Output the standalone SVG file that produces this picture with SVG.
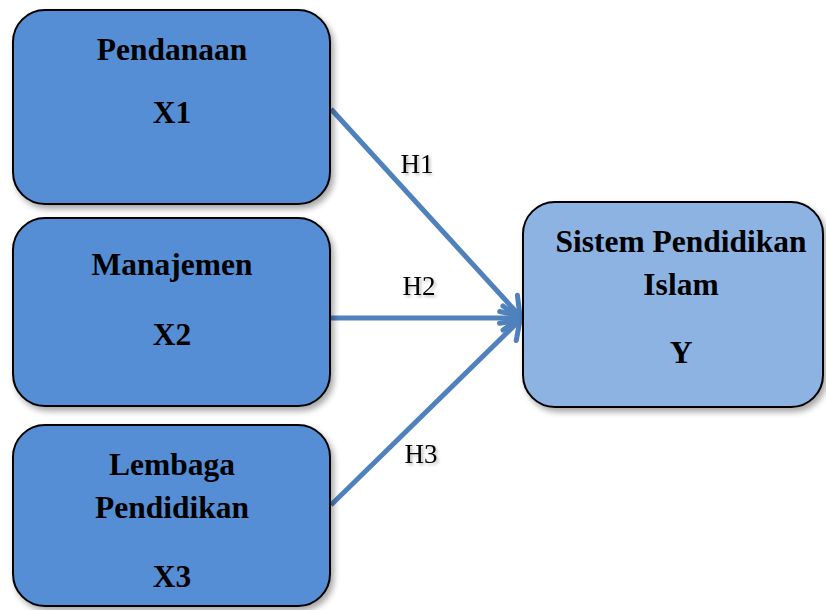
<svg xmlns="http://www.w3.org/2000/svg" width="826" height="610" viewBox="0 0 826 610">
<style>
.box{stroke:#000;stroke-width:2}
.x{fill:#558ED5}
.y{fill:#8DB3E2}
.t{font-family:"Liberation Serif","Times New Roman",serif;font-weight:bold;font-size:31.5px;fill:#000;text-anchor:middle}
.h{font-family:"Liberation Serif","Times New Roman",serif;font-size:27px;fill:#000;text-anchor:middle}
.c{stroke:#4F81BD;stroke-width:5;fill:none}
</style>
<defs>
<filter id="sh" x="-10%" y="-10%" width="125%" height="125%">
<feGaussianBlur in="SourceAlpha" stdDeviation="3"/>
<feOffset dx="3" dy="4" result="b"/>
<feComponentTransfer><feFuncA type="linear" slope="0.35"/></feComponentTransfer>
<feMerge><feMergeNode/><feMergeNode in="SourceGraphic"/></feMerge>
</filter>
<filter id="tsh" x="-20%" y="-20%" width="150%" height="150%">
<feGaussianBlur in="SourceAlpha" stdDeviation="1.5"/>
<feOffset dx="2" dy="2"/>
<feComponentTransfer><feFuncA type="linear" slope="0.25"/></feComponentTransfer>
<feMerge><feMergeNode/><feMergeNode in="SourceGraphic"/></feMerge>
</filter>
<marker id="arr" markerUnits="userSpaceOnUse" viewBox="-22 -16 26 32" refX="0" refY="0" markerWidth="26" markerHeight="32" orient="auto">
<path d="M-17,-12 L0,0 L-17,12" fill="none" stroke="#4F81BD" stroke-width="5" stroke-linecap="round" stroke-linejoin="round"/>
</marker>
</defs>
<g id="connectors">
<line class="c" x1="331" y1="109" x2="520" y2="316" marker-end="url(#arr)"/>
<line class="c" x1="331" y1="318" x2="520" y2="318" marker-end="url(#arr)"/>
<line class="c" x1="331" y1="505" x2="520" y2="320" marker-end="url(#arr)"/>
<g filter="url(#tsh)">
<text class="h" x="417" y="173">H1</text>
<text class="h" x="419" y="295">H2</text>
<text class="h" x="421" y="463">H3</text>
</g>
</g>
<g id="x1">
<rect class="box x" x="13" y="10" width="317" height="194" rx="32" filter="url(#sh)"/>
<text class="t" x="172" y="60">Pendanaan</text>
<text class="t" x="172" y="123">X1</text>
</g>
<g id="x2">
<rect class="box x" x="13" y="218" width="317" height="188" rx="32" filter="url(#sh)"/>
<text class="t" x="172" y="275">Manajemen</text>
<text class="t" x="172" y="345">X2</text>
</g>
<g id="x3">
<rect class="box x" x="13" y="425" width="317" height="181" rx="32" filter="url(#sh)"/>
<text class="t" x="172" y="475">Lembaga</text>
<text class="t" x="172" y="518">Pendidikan</text>
<text class="t" x="172" y="587">X3</text>
</g>
<g id="y">
<rect class="box y" x="523" y="202" width="300" height="205" rx="32" filter="url(#sh)"/>
<text class="t" x="681" y="252">Sistem Pendidikan</text>
<text class="t" x="681" y="295">Islam</text>
<text class="t" x="681" y="363">Y</text>
</g>
</svg>
